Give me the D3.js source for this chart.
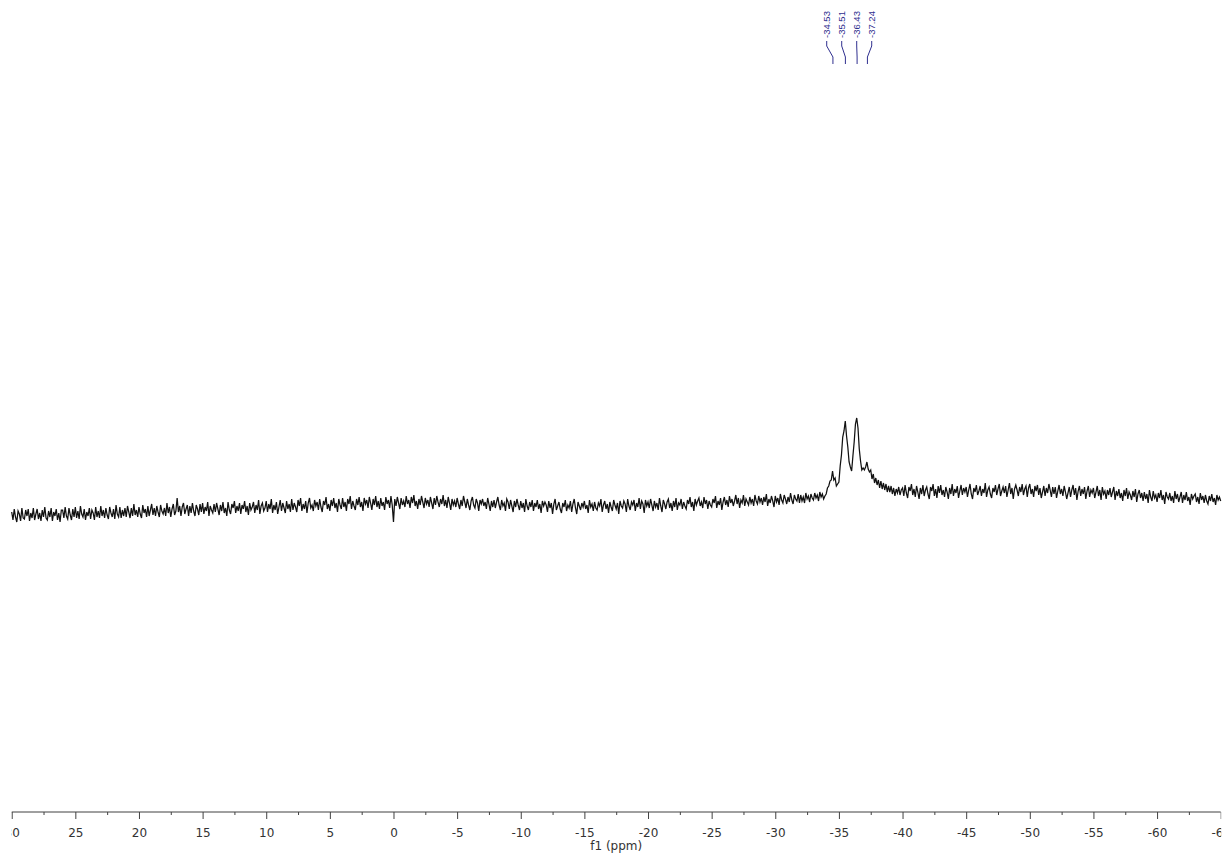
<!DOCTYPE html>
<html>
<head>
<meta charset="utf-8">
<script src="https://cdn.jsdelivr.net/npm/d3@7"></script>
<style>
  html, body { margin: 0; padding: 0; background: #ffffff; }
  svg { display: block; }
</style>
</head>
<body>
<svg id="chart" width="1226" height="857"></svg>
<script>
// ---------------- DATA ----------------
const ppmStart = 30;      // first sample (ppm)
const ppmStep = -0.1;     // sample spacing (ppm)
// intensity (arbitrary units), one row = 1 ppm (10 samples), from 30 ppm down to -65 ppm
const intensity = [
  3,-5,6,-2,-7,4,1,-6,7,-3,
  -4,5,-1,6,-6,2,-3,7,-5,1,
  6,-4,2,-6,5,-2,8,-3,-5,4,
  -2,7,-6,3,-1,6,-5,2,-7,5,
  5,-3,8,-1,-4,7,0,-5,6,-2,
  8,-3,4,-4,9,1,-2,6,-5,3,
  -1,7,-4,5,2,-5,8,-2,4,-3,
  9,-1,5,-3,7,0,-4,8,2,-2,
  6,-4,10,1,-2,8,-3,5,-1,7,
  -2,9,3,-3,7,-1,11,0,5,-2,
  8,1,-3,10,2,6,-2,9,-1,5,
  11,0,7,-1,9,3,-2,10,4,1,
  7,-1,12,2,8,-2,6,11,0,4,
  17,3,9,-1,8,12,1,6,10,-1,
  9,2,12,4,-1,10,6,0,11,3,
  12,1,8,4,13,-1,9,5,2,11,
  3,12,6,0,10,4,13,2,7,-1,
  13,5,1,11,7,14,2,9,4,12,
  1,10,6,14,3,9,0,12,5,8,
  13,2,10,5,15,1,9,12,4,7,
  14,3,11,6,16,2,10,5,13,1,
  8,15,4,12,7,2,14,6,11,3,
  16,5,12,8,3,15,9,17,4,11,
  6,14,2,12,17,7,10,4,15,9,
  13,5,16,8,3,14,10,18,6,11,
  4,15,9,17,7,12,3,16,10,6,
  17,8,13,4,16,11,19,6,14,9,
  5,16,10,18,8,13,4,17,11,15,
  7,18,12,5,16,10,19,8,14,6,
  17,9,13,5,18,11,15,7,19,10,
  -7,16,9,18,12,6,17,10,14,8,
  19,11,15,7,18,12,20,9,14,6,
  16,10,19,13,7,17,11,15,8,18,
  12,6,17,10,19,13,8,16,11,20,
  9,15,7,18,12,5,16,10,14,8,
  17,11,6,15,9,19,13,7,16,10,
  5,14,18,10,7,16,12,4,15,11,
  16,9,13,6,17,11,4,14,8,15,
  7,13,18,10,5,15,9,12,4,16,
  13,6,15,9,3,14,8,16,10,5,
  14,7,12,3,16,9,5,13,8,15,
  4,12,8,15,6,11,2,14,9,13,
  10,3,14,7,12,1,11,16,5,9,
  13,6,2,12,8,15,4,10,7,14,
  3,11,16,7,1,13,9,5,12,8,
  14,6,10,2,15,8,11,4,13,7,
  5,12,9,16,3,10,14,6,11,2,
  13,8,4,15,10,6,12,1,14,9,
  7,14,11,3,16,9,5,13,10,15,
  4,12,8,17,6,14,11,2,15,9,
  13,7,16,10,4,14,8,12,5,17,
  9,3,15,11,6,13,16,7,12,4,
  14,8,17,5,12,10,16,6,13,9,
  6,15,11,18,8,13,4,16,10,14,
  17,9,13,7,18,11,15,6,14,10,
  8,16,12,19,7,14,10,17,5,13,
  18,10,15,8,19,12,16,9,14,20,
  11,17,7,15,12,20,9,16,13,10,
  18,12,16,9,20,14,11,19,13,17,
  10,18,13,21,9,16,12,19,14,8,
  19,13,17,10,21,15,12,20,16,11,
  18,13,22,15,11,20,16,14,21,12,
  20,14,18,12,22,16,19,13,21,17,
  15,22,17,20,14,23,18,21,16,19,
  21,27,29,34,35,44,35,37,29,31,
  33,49,60,78,84,94,79,68,53,48,
  44,59,73,91,97,87,66,54,45,47,
  45,48,53,46,43,45,36,41,32,37,
  30,35,27,34,26,32,25,31,23,29,
  23,29,21,27,19,26,22,28,20,25,
  27,19,30,22,17,28,24,31,20,26,
  18,29,23,16,27,21,30,19,25,28,
  21,16,28,24,31,19,26,17,29,22,
  30,20,25,18,28,23,16,27,21,31,
  19,26,22,29,17,24,30,20,27,23,
  28,18,25,31,21,16,27,23,30,20,
  24,29,19,26,22,32,18,25,28,21,
  17,27,23,30,20,26,31,19,24,28,
  22,29,18,25,32,21,27,16,26,30,
  25,19,28,23,31,20,26,29,18,27,
  31,21,26,18,29,24,30,20,27,17,
  23,29,19,27,22,31,25,18,28,21,
  28,17,24,30,21,26,19,29,23,16,
  22,28,18,25,30,20,27,15,24,29,
  19,26,21,28,16,24,29,18,25,22,
  27,17,23,29,19,25,15,28,21,24,
  16,25,20,27,18,23,28,15,24,19,
  26,17,22,14,25,19,27,16,23,20,
  15,24,18,26,13,21,25,17,22,14,
  23,16,21,12,25,18,14,24,17,20,
  13,22,17,25,15,20,11,23,18,16,
  22,14,19,12,24,16,21,13,18,23,
  12,20,15,23,14,18,10,21,16,19,
  21,13,18,11,22,15,19,12,20,14,
  11,19,14,21,13,17,10,20,15,18,
  14
];
const peakPpm = [-34.53, -35.51, -36.43, -37.24];
const peakLabels = ["-34.53", "-35.51", "-36.43", "-37.24"];
const majorTicks = [30, 25, 20, 15, 10, 5, 0, -5, -10, -15, -20, -25, -30, -35, -40, -45, -50, -55, -60, -65];
const minorTicks = [27.5, 22.5, 17.5, 12.5, 7.5, 2.5, -2.5, -7.5, -12.5, -17.5, -22.5, -27.5, -32.5, -37.5, -42.5, -47.5, -52.5, -57.5, -62.5];
const xTitle = "f1 (ppm)";

// ---------------- LAYOUT ----------------
const plotLeft = 11.7, plotRight = 1220.7;
const axisY = 812;
const svg = d3.select("#chart");

const x = d3.scaleLinear().domain([30, -65]).range([plotLeft, plotRight]);
const y = d3.scaleLinear().domain([0, 100]).range([515, 415]);

const points = intensity.map((v, i) => ({ ppm: ppmStart + i * ppmStep, v }));

// spectrum
svg.append("path")
  .datum(points)
  .attr("fill", "none")
  .attr("stroke", "#111111")
  .attr("stroke-width", 1.25)
  .attr("stroke-linejoin", "miter")
  .attr("d", d3.line().x(d => x(d.ppm)).y(d => y(d.v)));

// axis (labels clipped at the axis ends, like the reference)
svg.append("defs").append("clipPath").attr("id", "axclip")
  .append("rect").attr("x", plotLeft - 0.5).attr("y", -10)
  .attr("width", plotRight - plotLeft + 1).attr("height", 45);

const axColor = "#404040";
const axG = svg.append("g").attr("transform", `translate(0,${axisY})`).attr("clip-path", "url(#axclip)");
axG.append("line")
  .attr("x1", x(30)).attr("x2", x(-65)).attr("y1", 0).attr("y2", 0)
  .attr("stroke", axColor).attr("stroke-width", 1);

const major = d3.axisBottom(x).tickValues(majorTicks).tickSize(7).tickPadding(9)
  .tickFormat(d => String(d));
const majG = axG.append("g").call(major);
majG.select(".domain").remove();
majG.selectAll(".tick line").attr("stroke", axColor);
majG.selectAll(".tick text")
  .attr("fill", "#333333")
  .style("font-family", "'DejaVu Sans', Verdana, sans-serif")
  .style("font-size", "12px");

const minor = d3.axisBottom(x).tickValues(minorTicks).tickSize(3).tickFormat("");
const minG = axG.append("g").call(minor);
minG.select(".domain").remove();
minG.selectAll(".tick line").attr("stroke", axColor);

svg.append("text")
  .attr("x", x(-17.5)).attr("y", 850)
  .attr("text-anchor", "middle")
  .attr("fill", "#333333")
  .style("font-family", "'DejaVu Sans', Verdana, sans-serif")
  .style("font-size", "12px")
  .text(xTitle);

// peak labels
const labColor = "#2f2f8f";
const peakX = peakPpm.map(p => x(p));
const meanX = d3.mean(peakX) - 1.5;
const spacing = 15;
const labelX = peakX.map((_, i) => meanX + (i - (peakX.length - 1) / 2) * spacing);

const pl = svg.append("g");
peakLabels.forEach((lab, i) => {
  pl.append("text")
    .attr("transform", `translate(${labelX[i]},38) rotate(-90)`)
    .attr("text-anchor", "start")
    .attr("dy", "0.35em")
    .attr("fill", labColor)
    .style("font-family", "'Liberation Sans', Arial, sans-serif")
    .style("font-size", "9.5px")
    .text(lab);
  pl.append("path")
    .attr("d", `M${labelX[i]},41 V46 L${peakX[i]},57 V64`)
    .attr("fill", "none")
    .attr("stroke", labColor)
    .attr("stroke-width", 1);
});
</script>
</body>
</html>
